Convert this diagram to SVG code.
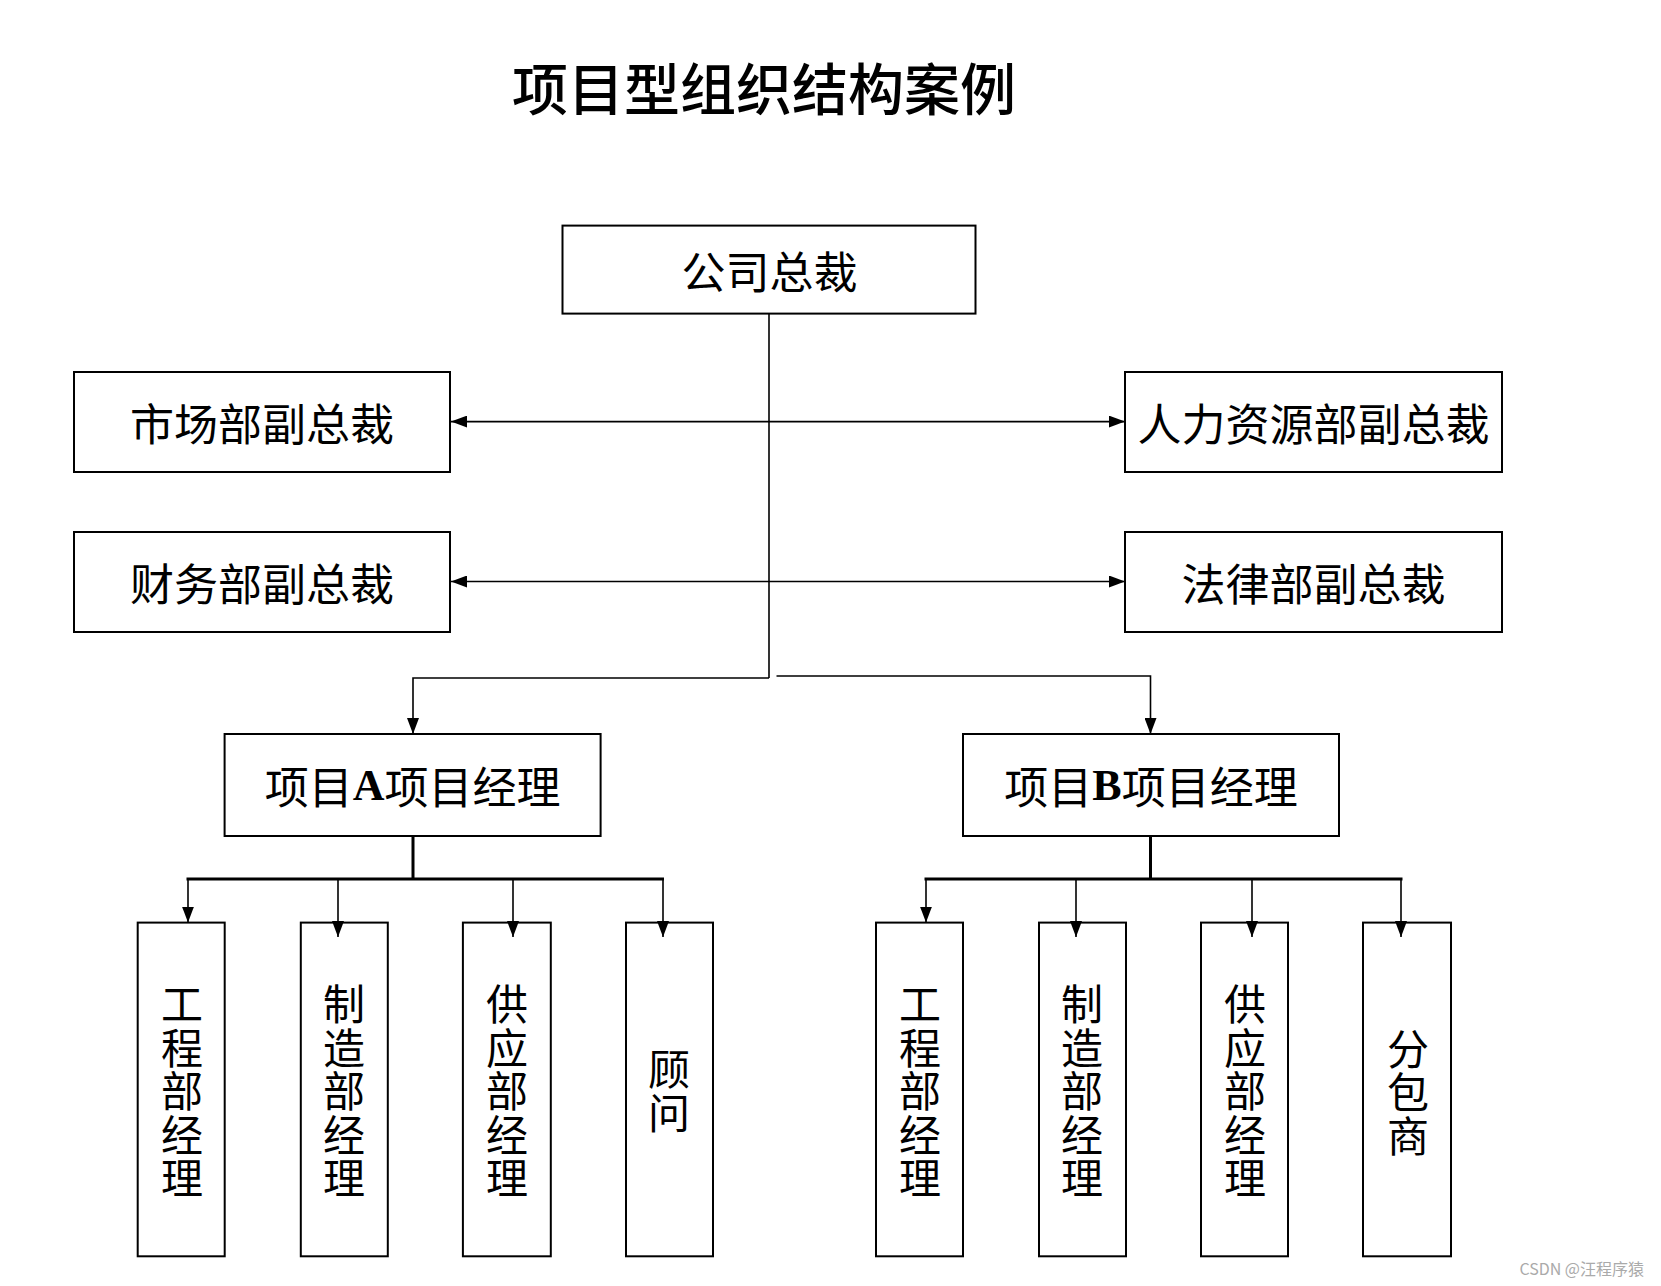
<svg xmlns="http://www.w3.org/2000/svg" width="1661" height="1286" viewBox="0 0 1661 1286">
<style>
.box{fill:#fff;stroke:#000;stroke-width:2}
.t{font-family:"Noto Sans CJK SC","Noto Sans CJK JP",sans-serif;font-size:44px;fill:#000;text-anchor:middle;dominant-baseline:central}
.v{font-family:"Noto Sans CJK SC","Noto Sans CJK JP",sans-serif;font-size:42px;fill:#000;text-anchor:middle;writing-mode:vertical-rl;letter-spacing:1.5px}
.lat{font-family:"Liberation Serif",serif;font-weight:bold}
.ln{fill:none;stroke:#000;stroke-width:1.6}
.bus{fill:none;stroke:#000;stroke-width:3}
</style>
<defs>
<marker id="ah" viewBox="0 0 16 12" refX="16" refY="6" markerWidth="16" markerHeight="12" markerUnits="userSpaceOnUse" orient="auto-start-reverse">
<path d="M0,0 L16,6 L0,12 z" fill="#000"/>
</marker>
</defs>
<rect width="1661" height="1286" fill="#fff"/>
<text x="764" y="85" style="font-family:'Noto Sans CJK SC',sans-serif;font-size:56px;font-weight:500;text-anchor:middle;dominant-baseline:central">项目型组织结构案例</text>

<g id="ceo"><rect class="box" x="562.5" y="225.6" width="413" height="88"/><text class="t" x="769.5" y="270">公司总裁</text></g>
<g id="market"><rect class="box" x="74" y="372" width="376" height="100"/><text class="t" x="262" y="422">市场部副总裁</text></g>
<g id="finance"><rect class="box" x="74" y="532" width="376" height="100"/><text class="t" x="262" y="582">财务部副总裁</text></g>
<g id="hr"><rect class="box" x="1125" y="372" width="377" height="100"/><text class="t" x="1313.5" y="422">人力资源部副总裁</text></g>
<g id="legal"><rect class="box" x="1125" y="532" width="377" height="100"/><text class="t" x="1313.5" y="582">法律部副总裁</text></g>
<g id="pmA"><rect class="box" x="224.6" y="734" width="376" height="102"/><text class="t" x="412.6" y="785">项目<tspan class="lat">A</tspan>项目经理</text></g>
<g id="pmB"><rect class="box" x="963" y="734" width="376" height="102"/><text class="t" x="1151" y="785">项目<tspan class="lat">B</tspan>项目经理</text></g>

<g id="a-eng"><rect class="box" x="137.7" y="922.6" width="87" height="333.7"/><text class="v" x="182" y="1092">工程部经理</text></g>
<g id="a-mfg"><rect class="box" x="300.8" y="922.6" width="87" height="333.7"/><text class="v" x="344" y="1092">制造部经理</text></g>
<g id="a-sup"><rect class="box" x="462.9" y="922.6" width="87.9" height="333.7"/><text class="v" x="507" y="1092">供应部经理</text></g>
<g id="a-adv"><rect class="box" x="626" y="922.6" width="87" height="333.7"/><text class="v" x="669" y="1092">顾问</text></g>

<g id="b-eng"><rect class="box" x="876" y="922.6" width="87" height="333.7"/><text class="v" x="920" y="1092">工程部经理</text></g>
<g id="b-mfg"><rect class="box" x="1039" y="922.6" width="87" height="333.7"/><text class="v" x="1082" y="1092">制造部经理</text></g>
<g id="b-sup"><rect class="box" x="1201" y="922.6" width="87" height="333.7"/><text class="v" x="1245" y="1092">供应部经理</text></g>
<g id="b-sub"><rect class="box" x="1363" y="922.6" width="88" height="333.7"/><text class="v" x="1408" y="1093">分包商</text></g>

<g id="connectors">
<path class="ln" d="M769,313.5 V678"/>
<path class="ln" d="M451,421.6 H1125" marker-start="url(#ah)" marker-end="url(#ah)"/>
<path class="ln" d="M451,581.5 H1125" marker-start="url(#ah)" marker-end="url(#ah)"/>
<path class="ln" d="M769,678 H413 V734" marker-end="url(#ah)"/>
<path class="ln" d="M776.5,676 H1150.5 V734" marker-end="url(#ah)"/>
<path class="bus" d="M413,836 V879 M186.5,879 H664"/>
<path class="ln" d="M188,879 V922.6" marker-end="url(#ah)"/>
<path class="ln" d="M338,879 V937" marker-end="url(#ah)"/>
<path class="ln" d="M513,879 V937" marker-end="url(#ah)"/>
<path class="ln" d="M663,879 V937" marker-end="url(#ah)"/>
<path class="bus" d="M1150.5,836 V879 M924.5,879 H1402.5"/>
<path class="ln" d="M926,879 V922.6" marker-end="url(#ah)"/>
<path class="ln" d="M1076,879 V937" marker-end="url(#ah)"/>
<path class="ln" d="M1252,879 V937" marker-end="url(#ah)"/>
<path class="ln" d="M1401,879 V937" marker-end="url(#ah)"/>
</g>

<text x="1644" y="1268" style="font-family:'Noto Sans CJK SC',sans-serif;font-size:16px;fill:#aaa;text-anchor:end;dominant-baseline:central">CSDN @汪程序猿</text>
</svg>
